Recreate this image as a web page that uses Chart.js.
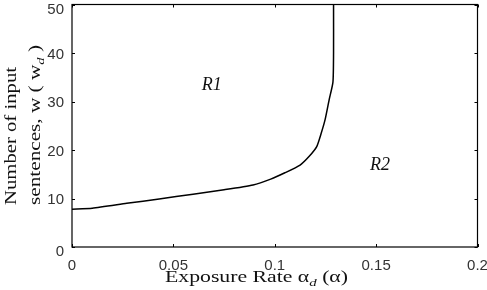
<!DOCTYPE html>
<html><head><meta charset="utf-8">
<script src="https://cdn.jsdelivr.net/npm/chart.js@4.4.1/dist/chart.umd.min.js"></script>
<style>html,body{margin:0;padding:0;background:#fff}#wrap{width:487px;height:290px;position:relative}</style>
</head><body><div id="wrap"><canvas id="c" width="487" height="290"></canvas></div>
<script>
const exposureRate = [0, 0.01, 0.027, 0.043, 0.0597, 0.075, 0.0893, 0.098, 0.105, 0.1125, 0.117, 0.1207, 0.1228, 0.1248, 0.1268, 0.1287, 0.129, 0.129];
const inputSentences = [7.8, 8.0, 9.0, 9.9, 10.9, 11.8, 12.8, 14.0, 15.3, 16.9, 18.7, 20.7, 23.3, 26.2, 30.3, 34.0, 40, 50];
const xTicks = [0, 0.05, 0.1, 0.15, 0.2];
const xTickLabels = ['0', '0.05', '0.1', '0.15', '0.2'];
const yTicks = [0, 10, 20, 30, 40, 50];
const yTickLabels = ['0', '10', '20', '30', '40', '50'];
const regionLabels = [{text: 'R1', x: 0.0689, y: 33.4}, {text: 'R2', x: 0.1519, y: 16.9}];

// draw text parts with subscripts, stretched along text direction to target length, centered at (x,y) baseline
function drawSub(ctx, parts, x, y, targetLen) {
  const base = '16px "Liberation Serif", serif';
  const small = '11px "Liberation Serif", serif';
  let w = 0;
  parts.forEach(p => { ctx.font = p.sub ? small : base; w += ctx.measureText(p.t).width; });
  const k = targetLen / w;
  ctx.save();
  ctx.translate(x, y);
  ctx.scale(k, 1);
  let cx = -w / 2;
  ctx.textAlign = 'left'; ctx.textBaseline = 'alphabetic';
  parts.forEach(p => {
    ctx.font = p.sub ? (p.it ? 'italic 11px "Liberation Serif", serif' : small) : base;
    ctx.fillText(p.t, cx, p.sub ? 4 : 0);
    cx += ctx.measureText(p.t).width;
  });
  ctx.restore();
}

const deco = {
  id: 'deco',
  afterDraw(chart) {
    const ctx = chart.ctx, a = chart.chartArea;
    const xs = chart.scales.x, ys = chart.scales.y;
    ctx.save();
    ctx.strokeStyle = '#000'; ctx.lineWidth = 1.2;
    ctx.strokeRect(a.left, a.top, a.right - a.left, a.bottom - a.top);
    ctx.lineWidth = 1;
    ctx.beginPath();
    xTicks.forEach(v => {
      const px = Math.round(xs.getPixelForValue(v)) + 0.5;
      ctx.moveTo(px, a.bottom); ctx.lineTo(px, a.bottom - 3);
      ctx.moveTo(px, a.top); ctx.lineTo(px, a.top + 3);
    });
    yTicks.forEach(v => {
      const py = Math.round(ys.getPixelForValue(v)) + 0.5;
      ctx.moveTo(a.left, py); ctx.lineTo(a.left + 3, py);
      ctx.moveTo(a.right, py); ctx.lineTo(a.right - 3, py);
    });
    ctx.stroke();
    // y tick labels
    ctx.fillStyle = '#333';
    ctx.font = '15px "Liberation Sans", Arial, sans-serif';
    ctx.textAlign = 'right'; ctx.textBaseline = 'middle';
    yTicks.forEach((v, i) => {
      const off = (i === 0 || i === yTicks.length - 1) ? 5 : 1.5;
      ctx.fillText(yTickLabels[i], a.left - 8, ys.getPixelForValue(v) + off);
    });
    ctx.fillStyle = '#111';
    ctx.textAlign = 'center';
    ctx.font = 'italic 18px "Liberation Serif", serif';
    regionLabels.forEach(r => ctx.fillText(r.text, xs.getPixelForValue(r.x), ys.getPixelForValue(r.y)));
    // x title
    drawSub(ctx, [{t: 'Exposure Rate α'}, {t: 'd', sub: true, it: true}, {t: ' (α)'}], 256.5, 282, 183);
    // y title
    ctx.save();
    ctx.translate(16, 136); ctx.rotate(-Math.PI / 2);
    drawSub(ctx, [{t: 'Number of input'}], 0, 0, 138);
    ctx.restore();
    ctx.save();
    ctx.translate(40, 125); ctx.rotate(-Math.PI / 2);
    drawSub(ctx, [{t: 'sentences, w ( w'}, {t: 'd', sub: true, it: true}, {t: ' )'}], 0, 0, 160);
    ctx.restore();
    ctx.restore();
  }
};

const tickFont = {family: '"Liberation Sans", Arial, sans-serif', size: 15};
new Chart(document.getElementById('c'), {
  type: 'line',
  data: {
    datasets: [{
      data: exposureRate.map((x, i) => ({x, y: inputSentences[i]})),
      borderColor: '#000', borderWidth: 1.5, pointRadius: 0, tension: 0.2, fill: false
    }]
  },
  options: {
    responsive: false, animation: false,
    layout: {padding: {left: 0, right: 9.5, top: 4.5, bottom: 0}},
    plugins: {legend: {display: false}, tooltip: {enabled: false}},
    scales: {
      x: {
        type: 'linear', min: 0, max: 0.2,
        afterBuildTicks: s => { s.ticks = xTicks.map(v => ({value: v})); },
        afterFit: s => { s.height = 43; s.paddingLeft = 0; s.paddingRight = 0; },
        grid: {display: false, drawTicks: false}, border: {display: false},
        ticks: {color: '#333', font: tickFont, padding: 10,
          maxRotation: 0, callback: (v) => xTickLabels[xTicks.indexOf(v)] ?? ''}
      },
      y: {
        type: 'linear', min: 0, max: 50,
        afterBuildTicks: s => { s.ticks = yTicks.map(v => ({value: v})); },
        afterFit: s => { s.width = 72; s.paddingTop = 0; s.paddingBottom = 0; },
        grid: {display: false, drawTicks: false}, border: {display: false},
        ticks: {display: false}
      }
    }
  },
  plugins: [deco]
});
</script></body></html>
